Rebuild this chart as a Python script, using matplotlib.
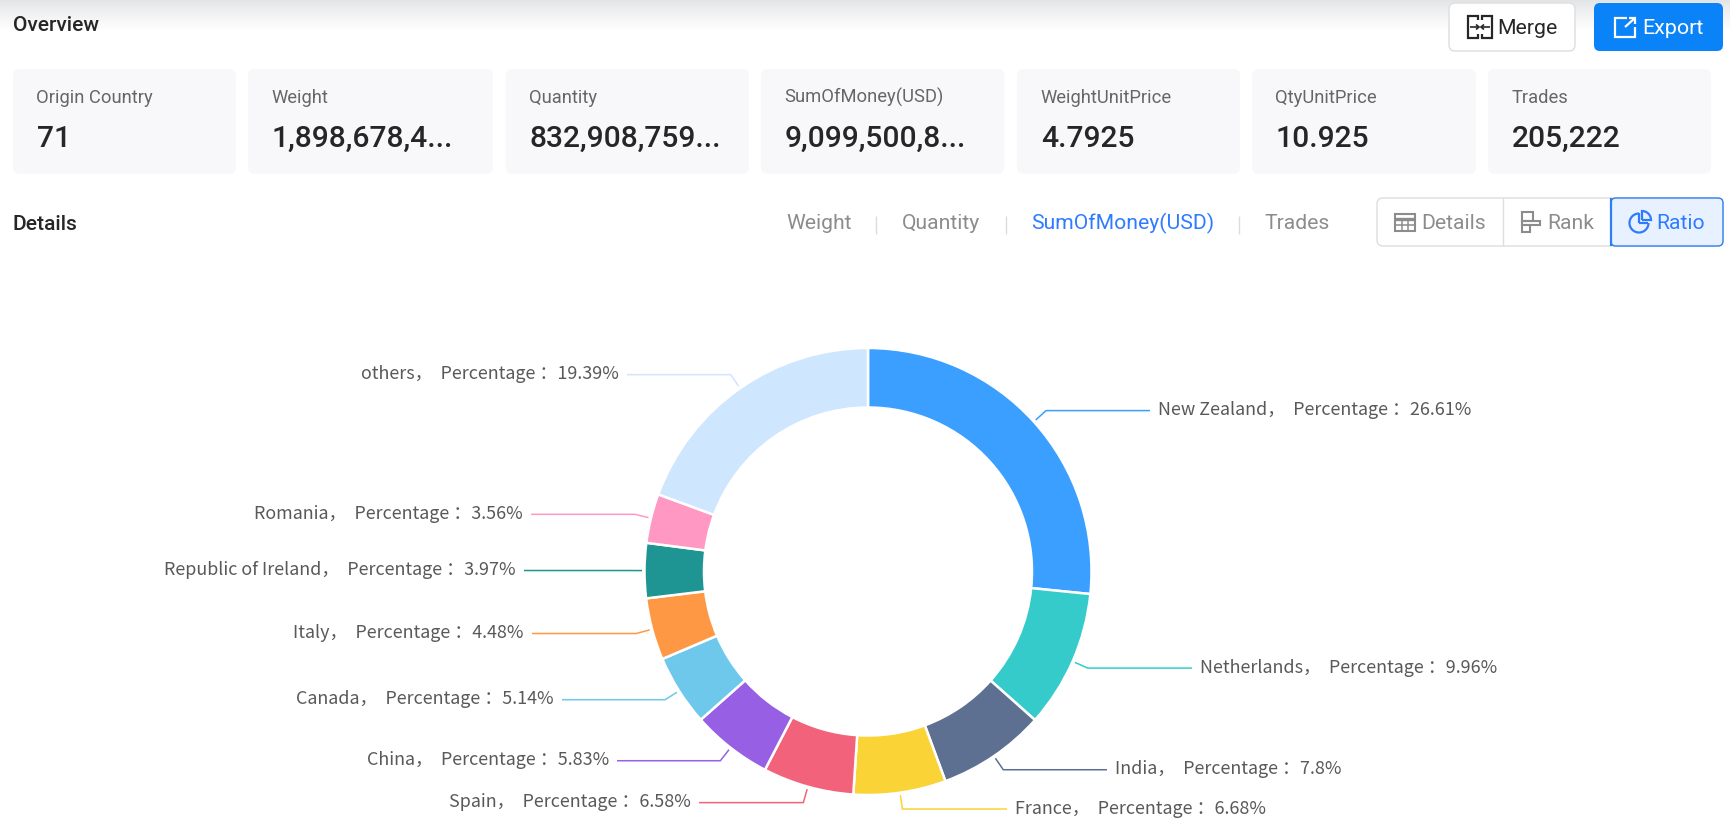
import numpy as np
import matplotlib
matplotlib.use('Agg')
import matplotlib.pyplot as plt
from matplotlib.patches import FancyBboxPatch, Rectangle

# --- data ---
countries = ['New Zealand', 'Netherlands', 'India', 'France', 'Spain', 'China',
             'Canada', 'Italy', 'Republic of Ireland', 'Romania', 'others']
percentages = [26.61, 9.96, 7.8, 6.68, 6.58, 5.83, 5.14, 4.48, 3.97, 3.56, 19.39]
slice_colors = ['#3A9FFF', '#36CBCB', '#5D7092', '#FAD337', '#F2637B', '#975FE4',
                '#6DC8EC', '#FF9845', '#1E9493', '#FF99C3', '#CFE6FF']

card_titles = ['Origin Country', 'Weight', 'Quantity', 'SumOfMoney(USD)',
               'WeightUnitPrice', 'QtyUnitPrice', 'Trades']
card_values = ['71', '1,898,678,4...', '832,908,759...', '9,099,500,8...',
               '4.7925', '10.925', '205,222']
tab_names = ['Weight', 'Quantity', 'SumOfMoney(USD)', 'Trades']

# --- layout, in pixels of the 1731x821 picture ---
W, H = 1731, 821
card_left = [13, 248, 505.5, 761, 1017, 1252, 1488]
card_right = [236, 493, 749, 1004.5, 1240, 1476, 1711]
tab_left = [786, 902, 1031.5, 1264]
tab_seps = [876.5, 1006, 1239.5]
line_ends = [1150, 1192, 1107, 1007, 699, 617, 562, 532, 524, 531, 627]
cx, cy = 868, 571.5
R_OUT, R_IN = 223.5, 164

SANS = 'Roboto'
LABEL_FONT = ['Noto Sans CJK SC', 'DejaVu Sans']


def px(size):
    return size * 0.72


fig = plt.figure(figsize=(W / 100, H / 100), dpi=100, facecolor='white')
bg = fig.add_axes([0, 0, 1, 1])
bg.set_xlim(0, W)
bg.set_ylim(H, 0)
bg.axis('off')


def round_box(x0, y0, x1, y1, face, edge='none', lw=1.0, rad=6, z=1):
    bg.add_patch(FancyBboxPatch((x0, y0), x1 - x0, y1 - y0,
                                boxstyle=f'round,pad=0,rounding_size={rad}',
                                fc=face, ec=edge, lw=lw, zorder=z))


def stroke(xs, ys, color, lw=1.5, z=4):
    bg.plot(xs, ys, color=color, lw=lw, zorder=z, solid_capstyle='butt',
            solid_joinstyle='miter')


# grey shadow fading out at the top of the page
shade = np.linspace(0, 1, 32).reshape(-1, 1)
shade_rgb = np.zeros((32, 1, 3))
for i, c in enumerate((0.89, 0.895, 0.905)):
    shade_rgb[:, :, i] = (c + (1 - c) * shade[:, 0] ** 0.8).reshape(-1, 1)
bg.imshow(shade_rgb, extent=(0, W, 32, 0), aspect='auto', zorder=0)
bg.set_xlim(0, W)
bg.set_ylim(H, 0)

bg.text(13, 31, 'Overview', fontsize=px(21), family=SANS, weight='medium', color='#262626')
bg.text(13, 230, 'Details', fontsize=px(21), family=SANS, weight='medium', color='#262626')

# summary cards
for i in range(len(card_titles)):
    round_box(card_left[i], 69, card_right[i], 174, '#F8F8FA', rad=7)
    bg.text(card_left[i] + 23.5, 103, card_titles[i], fontsize=px(18.4), family=SANS, color='#666666')
    bg.text(card_left[i] + 24, 147, card_values[i], fontsize=px(30), family=SANS,
            weight='medium', color='#262626')

# merge / export buttons
round_box(1449, 3, 1575, 51, 'white', '#DDDDDD', lw=1.0, rad=6, z=2)
round_box(1594, 3, 1723, 51, '#0A82F8', rad=6, z=2)
for x0, x1 in ((1468, 1478), (1482, 1492)):
    bg.add_patch(Rectangle((x0, 16), x1 - x0, 22, fc='none', ec='#262626', lw=1.6, zorder=4))
bg.add_patch(Rectangle((1476, 20), 8, 14, fc='white', ec='none', zorder=4))
stroke([1470, 1478], [27, 27], '#262626', 1.2, z=5)
stroke([1482, 1490], [27, 27], '#262626', 1.2, z=5)
stroke([1476, 1479, 1476], [24.5, 27, 29.5], '#262626', 1.2, z=5)
stroke([1484, 1481, 1484], [24.5, 27, 29.5], '#262626', 1.2, z=5)
bg.text(1497, 34, 'Merge', fontsize=px(21.3), family=SANS, color='#262626', zorder=4)
stroke([1627, 1615, 1615, 1635, 1635], [18, 18, 37, 37, 27], 'white', 1.6)
stroke([1625, 1635], [27, 18], 'white', 1.6)
stroke([1629, 1635, 1635], [18, 18, 24], 'white', 1.6)
bg.text(1642, 34, 'Export', fontsize=px(21.5), family=SANS, color='white', zorder=4)

# metric tabs
for i, name in enumerate(tab_names):
    active = name == 'SumOfMoney(USD)'
    bg.text(tab_left[i], 229, name, fontsize=px(21.1), family=SANS,
            color='#2F7BFF' if active else '#8C8C8C')
for x in tab_seps:
    stroke([x, x], [216, 234], '#DCDCDC', 1.0)

# view switcher
round_box(1377, 198, 1723, 246, 'white', '#DDDDDD', lw=1.0, rad=6, z=2)
stroke([1503, 1503], [198, 246], '#DDDDDD', 1.0, z=3)
round_box(1611, 198, 1723, 246, '#E8F1FF', '#2F7FF0', lw=1.0, rad=5, z=3)
stroke([1611, 1611], [198, 246], '#2F7FF0', 1.6, z=4)
grey_icon = '#8C8C8C'
bg.add_patch(Rectangle((1395, 214), 20, 17, fc='none', ec=grey_icon, lw=1.5, zorder=4))
stroke([1395, 1415], [219, 219], grey_icon, 2.4)
stroke([1395, 1415], [225, 225], grey_icon, 1.1)
stroke([1402, 1402], [219, 231], grey_icon, 1.1)
stroke([1408, 1408], [219, 231], grey_icon, 1.1)
bg.text(1421, 229, 'Details', fontsize=px(21.2), family=SANS, color=grey_icon, zorder=4)
bg.add_patch(Rectangle((1522, 212), 11, 9, fc='none', ec=grey_icon, lw=1.5, zorder=4))
bg.add_patch(Rectangle((1522, 221), 18, 4, fc='none', ec=grey_icon, lw=1.5, zorder=4))
bg.add_patch(Rectangle((1522, 225), 8, 7, fc='none', ec=grey_icon, lw=1.5, zorder=4))
bg.text(1547.5, 229, 'Rank', fontsize=px(21.2), family=SANS, color=grey_icon, zorder=4)
blue = '#2F7BFF'
t = np.radians(np.linspace(90, 360, 60))
stroke(1639 + 9.5 * np.sin(t), 223 - 9.5 * np.cos(t), blue, 1.6)
stroke([1639, 1639], [213.5, 223], blue, 1.6)
stroke([1639, 1648.5], [223, 223], blue, 1.6)
q = np.radians(np.linspace(0, 90, 20))
stroke(np.r_[1642, 1642 + 9 * np.sin(q), 1642], np.r_[220, 220 - 9 * np.cos(q), 220], blue, 1.6)
bg.text(1656.5, 229, 'Ratio', fontsize=px(21.2), family=SANS, color=blue, zorder=4)

# donut, on its own axes so that its units stay pixels
size = 500
ax = fig.add_axes([(cx - size / 2) / W, 1 - (cy + size / 2) / H, size / W, size / H])
ax.pie(percentages, startangle=90, counterclock=False, radius=R_OUT, colors=slice_colors,
       wedgeprops=dict(width=R_OUT - R_IN, edgecolor='white', linewidth=1.8))
ax.set_xlim(-size / 2, size / 2)
ax.set_ylim(-size / 2, size / 2)
ax.patch.set_alpha(0)

# leader lines start on the middle of each slice
cum = np.cumsum(percentages)
mids = np.radians((cum - np.array(percentages) / 2) * 3.6)
for i, name in enumerate(countries):
    sx, sy = np.sin(mids[i]), -np.cos(mids[i])
    elbow_x, elbow_y = cx + 240 * sx, cy + 240 * sy
    stroke([cx + 226 * sx, elbow_x, line_ends[i]], [cy + 226 * sy, elbow_y, elbow_y],
           slice_colors[i], lw=1.1)
    right_side = line_ends[i] > elbow_x
    bg.text(line_ends[i] + (8 if right_side else -8), elbow_y + 4.5,
            f'{name}，  Percentage ：{percentages[i]:g}%',
            fontsize=px(17.95), family=LABEL_FONT, color='#595959',
            ha='left' if right_side else 'right')

fig.savefig('out.png', dpi=100)
